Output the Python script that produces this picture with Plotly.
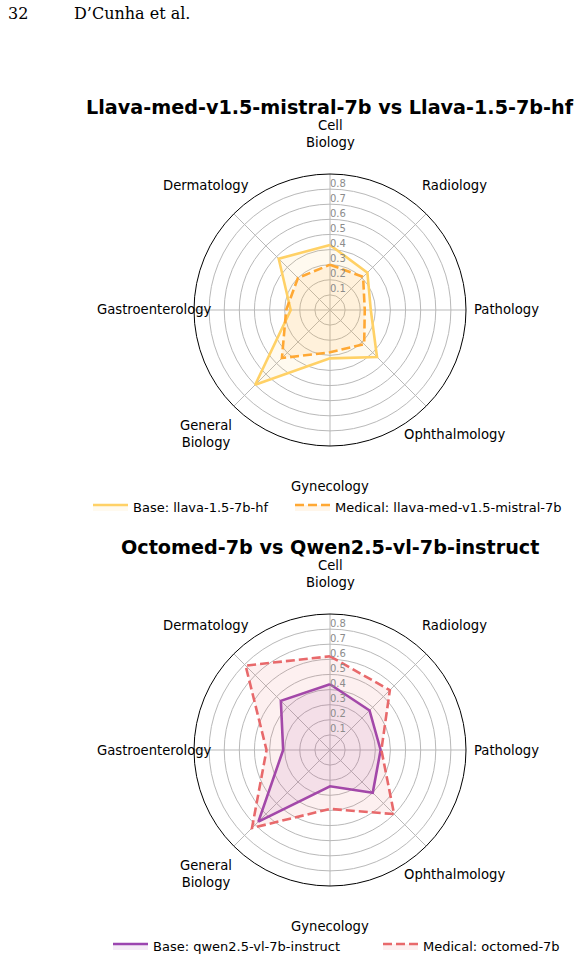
import math
import plotly.graph_objects as go

W, H = 581, 961

categories = ["Cell Biology", "Radiology", "Pathology", "Ophthalmology",
              "Gynecology", "General Biology", "Gastroenterology", "Dermatology"]
category_labels = ["Cell<br>Biology", "Radiology", "Pathology", "Ophthalmology",
                   "Gynecology", "General<br>Biology", "Gastroenterology", "Dermatology"]

# Chart 1
base1_name = "Base: llava-1.5-7b-hf"
base1_values = [0.43, 0.35, 0.27, 0.44, 0.32, 0.70, 0.26, 0.48]
med1_name = "Medical: llava-med-v1.5-mistral-7b"
med1_values = [0.30, 0.31, 0.23, 0.32, 0.28, 0.45, 0.29, 0.30]
title1 = "Llava-med-v1.5-mistral-7b vs Llava-1.5-7b-hf"

# Chart 2
base2_name = "Base: qwen2.5-vl-7b-instruct"
base2_values = [0.435, 0.37, 0.335, 0.40, 0.24, 0.67, 0.31, 0.46]
med2_name = "Medical: octomed-7b"
med2_values = [0.62, 0.56, 0.34, 0.60, 0.39, 0.73, 0.42, 0.79]
title2 = "Octomed-7b vs Qwen2.5-vl-7b-instruct"

radial_ticks = [0.1, 0.2, 0.3, 0.4, 0.5, 0.6, 0.7, 0.8]
radial_tick_labels = ["0.1", "0.2", "0.3", "0.4", "0.5", "0.6", "0.7", "0.8"]
r_max = 0.9

FONT = "DejaVu Sans"


def closed(v):
    return list(v) + [v[0]]


def rgba(hexc, a):
    h = hexc.lstrip("#")
    r, g, b = int(h[0:2], 16), int(h[2:4], 16), int(h[4:6], 16)
    return f"rgba({r},{g},{b},{a})"


fig = go.Figure()

# (subplot, base legend, base name, values, colour, medical legend, name, values, colour)
charts = [
    ("polar", "legend", base1_name, base1_values, "#FFD166",
     "legend3", med1_name, med1_values, "#FFA833"),
    ("polar2", "legend2", base2_name, base2_values, "#9B45B0",
     "legend4", med2_name, med2_values, "#E8696B"),
]

for sub, bleg, bname, bvals, bcol, mleg, mname, mvals, mcol in charts:
    fig.add_trace(go.Scatterpolar(
        r=closed(bvals), theta=closed(categories), mode="lines", name=bname,
        line=dict(color=bcol, width=2.6), fill="toself", fillcolor=rgba(bcol, 0.1),
        subplot=sub, legend=bleg, hoverinfo="skip"))
    fig.add_trace(go.Scatterpolar(
        r=closed(mvals), theta=closed(categories), mode="lines", name=mname,
        line=dict(color=mcol, width=2.6, dash="9px,4px"), fill="toself",
        fillcolor=rgba(mcol, 0.1),
        subplot=sub, legend=mleg, hoverinfo="skip"))
    # radial tick labels
    fig.add_trace(go.Scatterpolar(
        r=radial_ticks, theta=[categories[0]] * len(radial_ticks), mode="text",
        text=radial_tick_labels, textposition="top right",
        textfont=dict(family=FONT, size=10, color="#8c8c8c"),
        subplot=sub, showlegend=False, hoverinfo="skip", cliponaxis=False))

cx, rad = 330, 136
label_rad = 176
centers = [310, 750]


def polar_layout(cy):
    return dict(
        domain=dict(x=[(cx - rad) / W, (cx + rad) / W],
                    y=[1 - (cy + rad) / H, 1 - (cy - rad) / H]),
        bgcolor="white",
        angularaxis=dict(rotation=90, direction="clockwise", showticklabels=False,
                         ticks="", gridcolor="#b9b9b9", gridwidth=1,
                         linecolor="black", linewidth=1, showline=True,
                         categoryorder="array", categoryarray=categories),
        radialaxis=dict(range=[0, r_max], tickvals=radial_ticks, showticklabels=False,
                        ticks="", showline=False, gridcolor="#b9b9b9", gridwidth=1),
    )


annotations = [
    dict(text="32", x=6 / W, y=1 - 13 / H, xref="paper", yref="paper",
         xanchor="left", yanchor="middle", showarrow=False,
         font=dict(family="DejaVu Serif", size=16, color="black")),
    dict(text="D’Cunha et al.", x=72 / W, y=1 - 13 / H, xref="paper", yref="paper",
         xanchor="left", yanchor="middle", showarrow=False,
         font=dict(family="DejaVu Serif", size=16, color="black")),
    dict(text=f"<b>{title1}</b>", x=cx / W, y=1 - 107 / H, xref="paper", yref="paper",
         xanchor="center", yanchor="middle", showarrow=False,
         font=dict(family=FONT, size=19.2, color="black")),
    dict(text=f"<b>{title2}</b>", x=cx / W, y=1 - 547 / H, xref="paper", yref="paper",
         xanchor="center", yanchor="middle", showarrow=False,
         font=dict(family=FONT, size=19.2, color="black")),
]

# category labels around each radar (placed at a fixed radius outside the frame)
n = len(categories)
for cy in centers:
    for i, lab in enumerate(category_labels):
        ang = math.radians(90 - 360 * i / n)
        px = cx + label_rad * math.cos(ang)
        py = cy - label_rad * math.sin(ang)
        annotations.append(dict(
            text=lab, x=px / W, y=1 - py / H, xref="paper", yref="paper",
            xanchor="center", yanchor="middle", showarrow=False, align="center",
            font=dict(family=FONT, size=13.2, color="black")))


def leg(x_px, y_px):
    return dict(orientation="h", xanchor="left", yanchor="middle",
                x=x_px / W, y=1 - y_px / H, itemwidth=35,
                font=dict(family=FONT, size=13, color="black"),
                bgcolor="rgba(0,0,0,0)")


fig.update_layout(
    width=W, height=H, margin=dict(l=0, r=0, t=0, b=0, autoexpand=False),
    paper_bgcolor="white", plot_bgcolor="white",
    polar=polar_layout(centers[0]), polar2=polar_layout(centers[1]),
    legend=leg(88, 507), legend3=leg(290, 507),
    legend2=leg(108, 946), legend4=leg(378, 946),
    annotations=annotations,
)

fig.write_html("out.html")
